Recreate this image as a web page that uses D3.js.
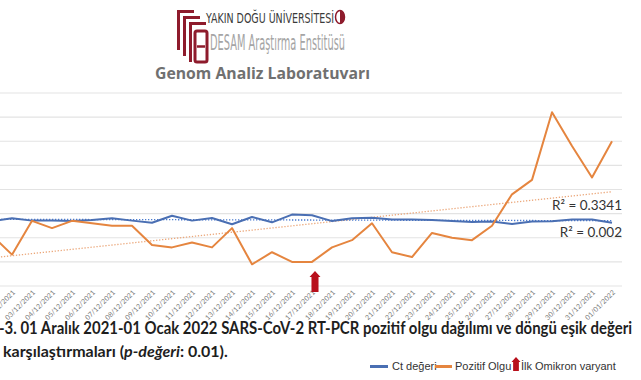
<!DOCTYPE html>
<meta charset="utf-8">
<script src="https://d3js.org/d3.v7.min.js"></script>
<style>
  body { margin: 0; background: #fff; }
</style>
<div id="chart"></div>

<script>
    // tarih etiketleri
    const dates = ["01/12/2021", "02/12/2021", "03/12/2021", "04/12/2021", "05/12/2021", "06/12/2021",
        "07/12/2021", "08/12/2021", "09/12/2021", "10/12/2021", "11/12/2021", "12/12/2021",
        "13/12/2021", "14/12/2021", "15/12/2021", "16/12/2021", "17/12/2021", "18/12/2021",
        "19/12/2021", "20/12/2021", "21/12/2021", "22/12/2021", "23/12/2021", "24/12/2021",
        "25/12/2021", "26/12/2021", "27/12/2021", "28/12/2021", "29/12/2021", "30/12/2021",
        "31/12/2021", "01/01/2022"];

    const pozitif = [21, 13, 27, 24, 27, 26, 25, 25, 17, 16, 18, 16, 24, 9, 14, 10, 10, 16, 19, 26,
        14, 12, 22, 20, 19, 25, 38, 44, 72, 58, 45, 60];

    const ctDegeri = [26.9, 28.1, 27.1, 27.1, 26.9, 27.4, 28.1, 27.1, 26.2, 29.1, 27.1, 28.2, 25.6,
        28.6, 26.4, 29.6, 29.3, 26.9, 28.1, 28.3, 27.6, 27.6, 27.4, 26.9, 26.5, 26.7, 25.7, 26.7,
        26.8, 27.6, 27.6, 26.2];

    const yTicks = [0, 10, 20, 30, 40, 50, 60, 70, 80];
    const r2Labels = ["R² = 0.3341", "R² = 0.002"];
    const omikronDate = "18/12/2021";

    const W = 641, H = 380;

    const svg = d3.select("#chart")
        .append("svg")
        .attr("width", W)
        .attr("height", H);

    // scales
    const x = d3.scalePoint()
        .domain(dates)
        .range([-8, 612]);
    const xi = d3.scaleLinear().domain([0, dates.length - 1]).range([-8, 612]);

    const y = d3.scaleLinear()
        .domain([0, 80])
        .range([286, 93]);

    // gridlines
    svg.append("g")
        .selectAll("line")
        .data(yTicks)
        .join("line")
        .attr("x1", -18)
        .attr("x2", 622)
        .attr("y1", d => y(d))
        .attr("y2", d => y(d))
        .attr("stroke", "#e3e3e3")
        .attr("stroke-width", 1.2);

    // x axis labels
    const xAxis = svg.append("g")
        .attr("transform", "translate(0, 290)")
        .call(d3.axisBottom(x).tickSize(0).tickPadding(0));
    xAxis.select(".domain").remove();
    xAxis.selectAll("text")
        .attr("font-family", "Lato, 'Open Sans', sans-serif")
        .attr("font-size", 7)
        .attr("fill", "#7a7a7a")
        .attr("dy", 0)
        .attr("text-anchor", "end")
        .attr("transform", "translate(3, 3) rotate(-45)");

    // linear trendlines (least squares)
    function trend(vals) {
        const n = vals.length;
        const mx = d3.mean(vals, (v, i) => i);
        const my = d3.mean(vals);
        let sxy = 0, sxx = 0;
        vals.forEach((v, i) => {
            sxy += (i - mx) * (v - my);
            sxx += (i - mx) * (i - mx);
        });
        const b = sxy / sxx;
        const a = my - b * mx;
        return [[0, a], [n - 1, a + b * (n - 1)]];
    }

    const tline = d3.line()
        .x(d => xi(d[0]))
        .y(d => y(d[1]));

    svg.append("path")
        .attr("d", tline(trend(pozitif)))
        .attr("fill", "none")
        .attr("stroke", "#eba77a")
        .attr("stroke-width", 1.3)
        .attr("stroke-dasharray", "1.3 1.7");

    svg.append("path")
        .attr("d", tline(trend(ctDegeri)))
        .attr("fill", "none")
        .attr("stroke", "#4a7bd0")
        .attr("stroke-width", 1.3)
        .attr("stroke-dasharray", "1.3 1.7");

    // series lines
    const line = d3.line()
        .x((d, i) => x(dates[i]))
        .y(d => y(d));

    svg.append("path")
        .datum(ctDegeri)
        .attr("d", line)
        .attr("fill", "none")
        .attr("stroke", "#4a6fb3")
        .attr("stroke-width", 2)
        .attr("stroke-linejoin", "round");

    svg.append("path")
        .datum(pozitif)
        .attr("d", line)
        .attr("fill", "none")
        .attr("stroke", "#e5853f")
        .attr("stroke-width", 2)
        .attr("stroke-linejoin", "round");

    // R² labels
    svg.selectAll(".r2")
        .data(r2Labels)
        .join("text")
        .attr("x", 622)
        .attr("y", (d, i) => [210, 237][i])
        .attr("text-anchor", "end")
        .attr("font-family", "Lato, sans-serif")
        .attr("font-size", 13.5)
        .attr("fill", "#333")
        .text(d => d);

    // red arrow
    function arrow(g, cx, top, h, w) {
        const head = w * 0.55;
        const shaft = w * 0.32;
        g.append("path")
            .attr("d", `M${cx},${top} L${cx + w / 2},${top + head} L${cx + shaft},${top + head} ` +
                `L${cx + shaft},${top + h} L${cx - shaft},${top + h} L${cx - shaft},${top + head} ` +
                `L${cx - w / 2},${top + head} Z`)
            .attr("fill", "#b8101c");
    }
    arrow(svg, x(omikronDate) - 17, 271, 21, 11);

    // caption
    const cap = svg.append("g")
        .attr("font-family", "Lato, 'Open Sans', sans-serif")
        .attr("font-weight", "bold")
        .attr("fill", "#1e1e1e");
    cap.append("text")
        .attr("x", -1)
        .attr("y", 334)
        .attr("font-size", 16.5)
        .attr("textLength", 633)
        .attr("lengthAdjust", "spacingAndGlyphs")
        .text("-3. 01 Aralık 2021-01 Ocak 2022 SARS-CoV-2 RT-PCR pozitif olgu dağılımı ve döngü eşik değeri");
    const l2 = cap.append("text")
        .attr("x", 3)
        .attr("y", 357)
        .attr("font-size", 16);
    l2.append("tspan").text("karşılaştırmaları (");
    l2.append("tspan").attr("font-style", "italic").text("p-değeri");
    l2.append("tspan").text(": 0.01).");

    // legend
    const leg = svg.append("g")
        .attr("font-family", "'Liberation Sans', Arial, sans-serif")
        .attr("font-size", 11)
        .attr("fill", "#333");
    leg.append("line").attr("x1", 370).attr("x2", 388).attr("y1", 366.5).attr("y2", 366.5)
        .attr("stroke", "#4a6fb3").attr("stroke-width", 3);
    leg.append("text").attr("x", 392).attr("y", 370).text("Ct değeri");
    leg.append("line").attr("x1", 435).attr("x2", 452).attr("y1", 366.5).attr("y2", 366.5)
        .attr("stroke", "#e5853f").attr("stroke-width", 3);
    leg.append("text").attr("x", 455).attr("y", 370).text("Pozitif Olgu");
    arrow(leg, 516, 357, 14, 9);
    leg.append("text").attr("x", 521).attr("y", 370).text("İlk Omikron varyant");

    // logo
    const logo = svg.append("g");
    const maroon = "#8e1b2c";
    [[177, 10], [183, 16], [189, 22]].forEach(([lx, ly]) => {
        logo.append("path")
            .attr("d", `M${lx + 3},${ly + 40} L${lx},${ly + 40} L${lx},${ly} L${lx + 17},${ly} L${lx + 17},${ly + 3} L${lx + 3},${ly + 3} Z`)
            .attr("fill", maroon);
    });
    logo.append("rect").attr("x", 195).attr("y", 31).attr("width", 12).attr("height", 31)
        .attr("rx", 2).attr("fill", "none").attr("stroke", maroon).attr("stroke-width", 3);
    logo.append("line").attr("x1", 197).attr("x2", 205).attr("y1", 46.5).attr("y2", 46.5)
        .attr("stroke", maroon).attr("stroke-width", 2.5);
    logo.append("text")
        .attr("x", 206).attr("y", 23)
        .attr("font-family", "'DejaVu Sans Condensed', 'Liberation Sans Narrow', sans-serif")
        .attr("font-size", 14)
        .attr("textLength", 128)
        .attr("lengthAdjust", "spacingAndGlyphs")
        .attr("fill", "#3a3a3a")
        .text("YAKIN DOĞU ÜNİVERSİTESİ");
    logo.append("ellipse").attr("cx", 340).attr("cy", 17).attr("rx", 4.5).attr("ry", 6.5)
        .attr("fill", "#fff").attr("stroke", maroon).attr("stroke-width", 1.5);
    logo.append("path").attr("d", "M340,10.5 A4.5,6.5 0 0 1 340,23.5 Z").attr("fill", maroon);
    logo.append("text")
        .attr("x", 210).attr("y", 50)
        .attr("font-family", "'DejaVu Sans Condensed', 'Liberation Sans Narrow', sans-serif")
        .attr("font-size", 21)
        .attr("textLength", 135)
        .attr("lengthAdjust", "spacingAndGlyphs")
        .attr("fill", "#a5a5a5")
        .text("DESAM Araştırma Enstitüsü");
    logo.append("text")
        .attr("x", 155).attr("y", 79)
        .attr("font-family", "'Open Sans', Lato, sans-serif")
        .attr("font-weight", "bold")
        .attr("font-size", 16)
        .attr("textLength", 215)
        .attr("lengthAdjust", "spacingAndGlyphs")
        .attr("fill", "#707070")
        .text("Genom Analiz Laboratuvarı");
</script>
